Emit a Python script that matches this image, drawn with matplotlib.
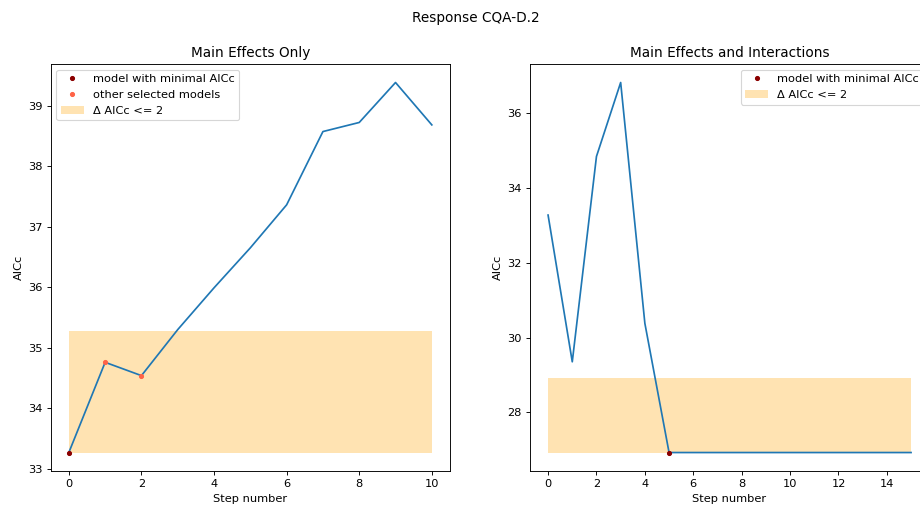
import matplotlib.pyplot as plt

# AICc along the stepwise selection path
steps_main = list(range(11))
aicc_main = [33.27, 34.76, 34.54, 35.30, 35.99, 36.65, 37.36, 38.57, 38.72, 39.38, 38.68]

steps_inter = list(range(16))
aicc_inter = [33.28, 29.35, 34.85, 36.83, 30.38, 26.92, 26.92, 26.92, 26.92, 26.92,
              26.92, 26.92, 26.92, 26.92, 26.92, 26.92]

# selected models (index into the step lists)
best_main = 0
other_main = [1, 2]
best_inter = 5
other_inter = []

DELTA = 2
DPI = 82

fig = plt.figure(figsize=(920 / DPI, 512 / DPI), dpi=DPI)
ax1 = fig.add_axes([0.0551, 0.080, 0.434, 0.795])
ax2 = fig.add_axes([0.576, 0.080, 0.434, 0.795])


def panel(ax, x, y, best, other, title, loc):
    ax.plot(x, y, color='#1f77b4', zorder=2)
    ax.plot([x[best]], [y[best]], 'o', color='darkred', markersize=3.5,
            label='model with minimal AICc', zorder=3)
    if other:
        ax.plot([x[i] for i in other], [y[i] for i in other], 'o', color='tomato',
                markersize=3.5, label='other selected models', zorder=3)
    ymin = y[best]
    ax.fill_between([x[0], x[-1]], ymin, ymin + DELTA, color='orange', alpha=0.3,
                    linewidth=0, label='Δ AICc <= 2', zorder=1)
    ax.set_title(title)
    ax.set_xlabel('Step number')
    ax.set_ylabel('AICc')
    ax.legend(loc=loc)


panel(ax1, steps_main, aicc_main, best_main, other_main, 'Main Effects Only', 'upper left')
panel(ax2, steps_inter, aicc_inter, best_inter, other_inter,
      'Main Effects and Interactions', 'upper right')

fig.suptitle('Response CQA-D.2', x=0.517, y=0.978)
fig.savefig('out.png', dpi=DPI)
